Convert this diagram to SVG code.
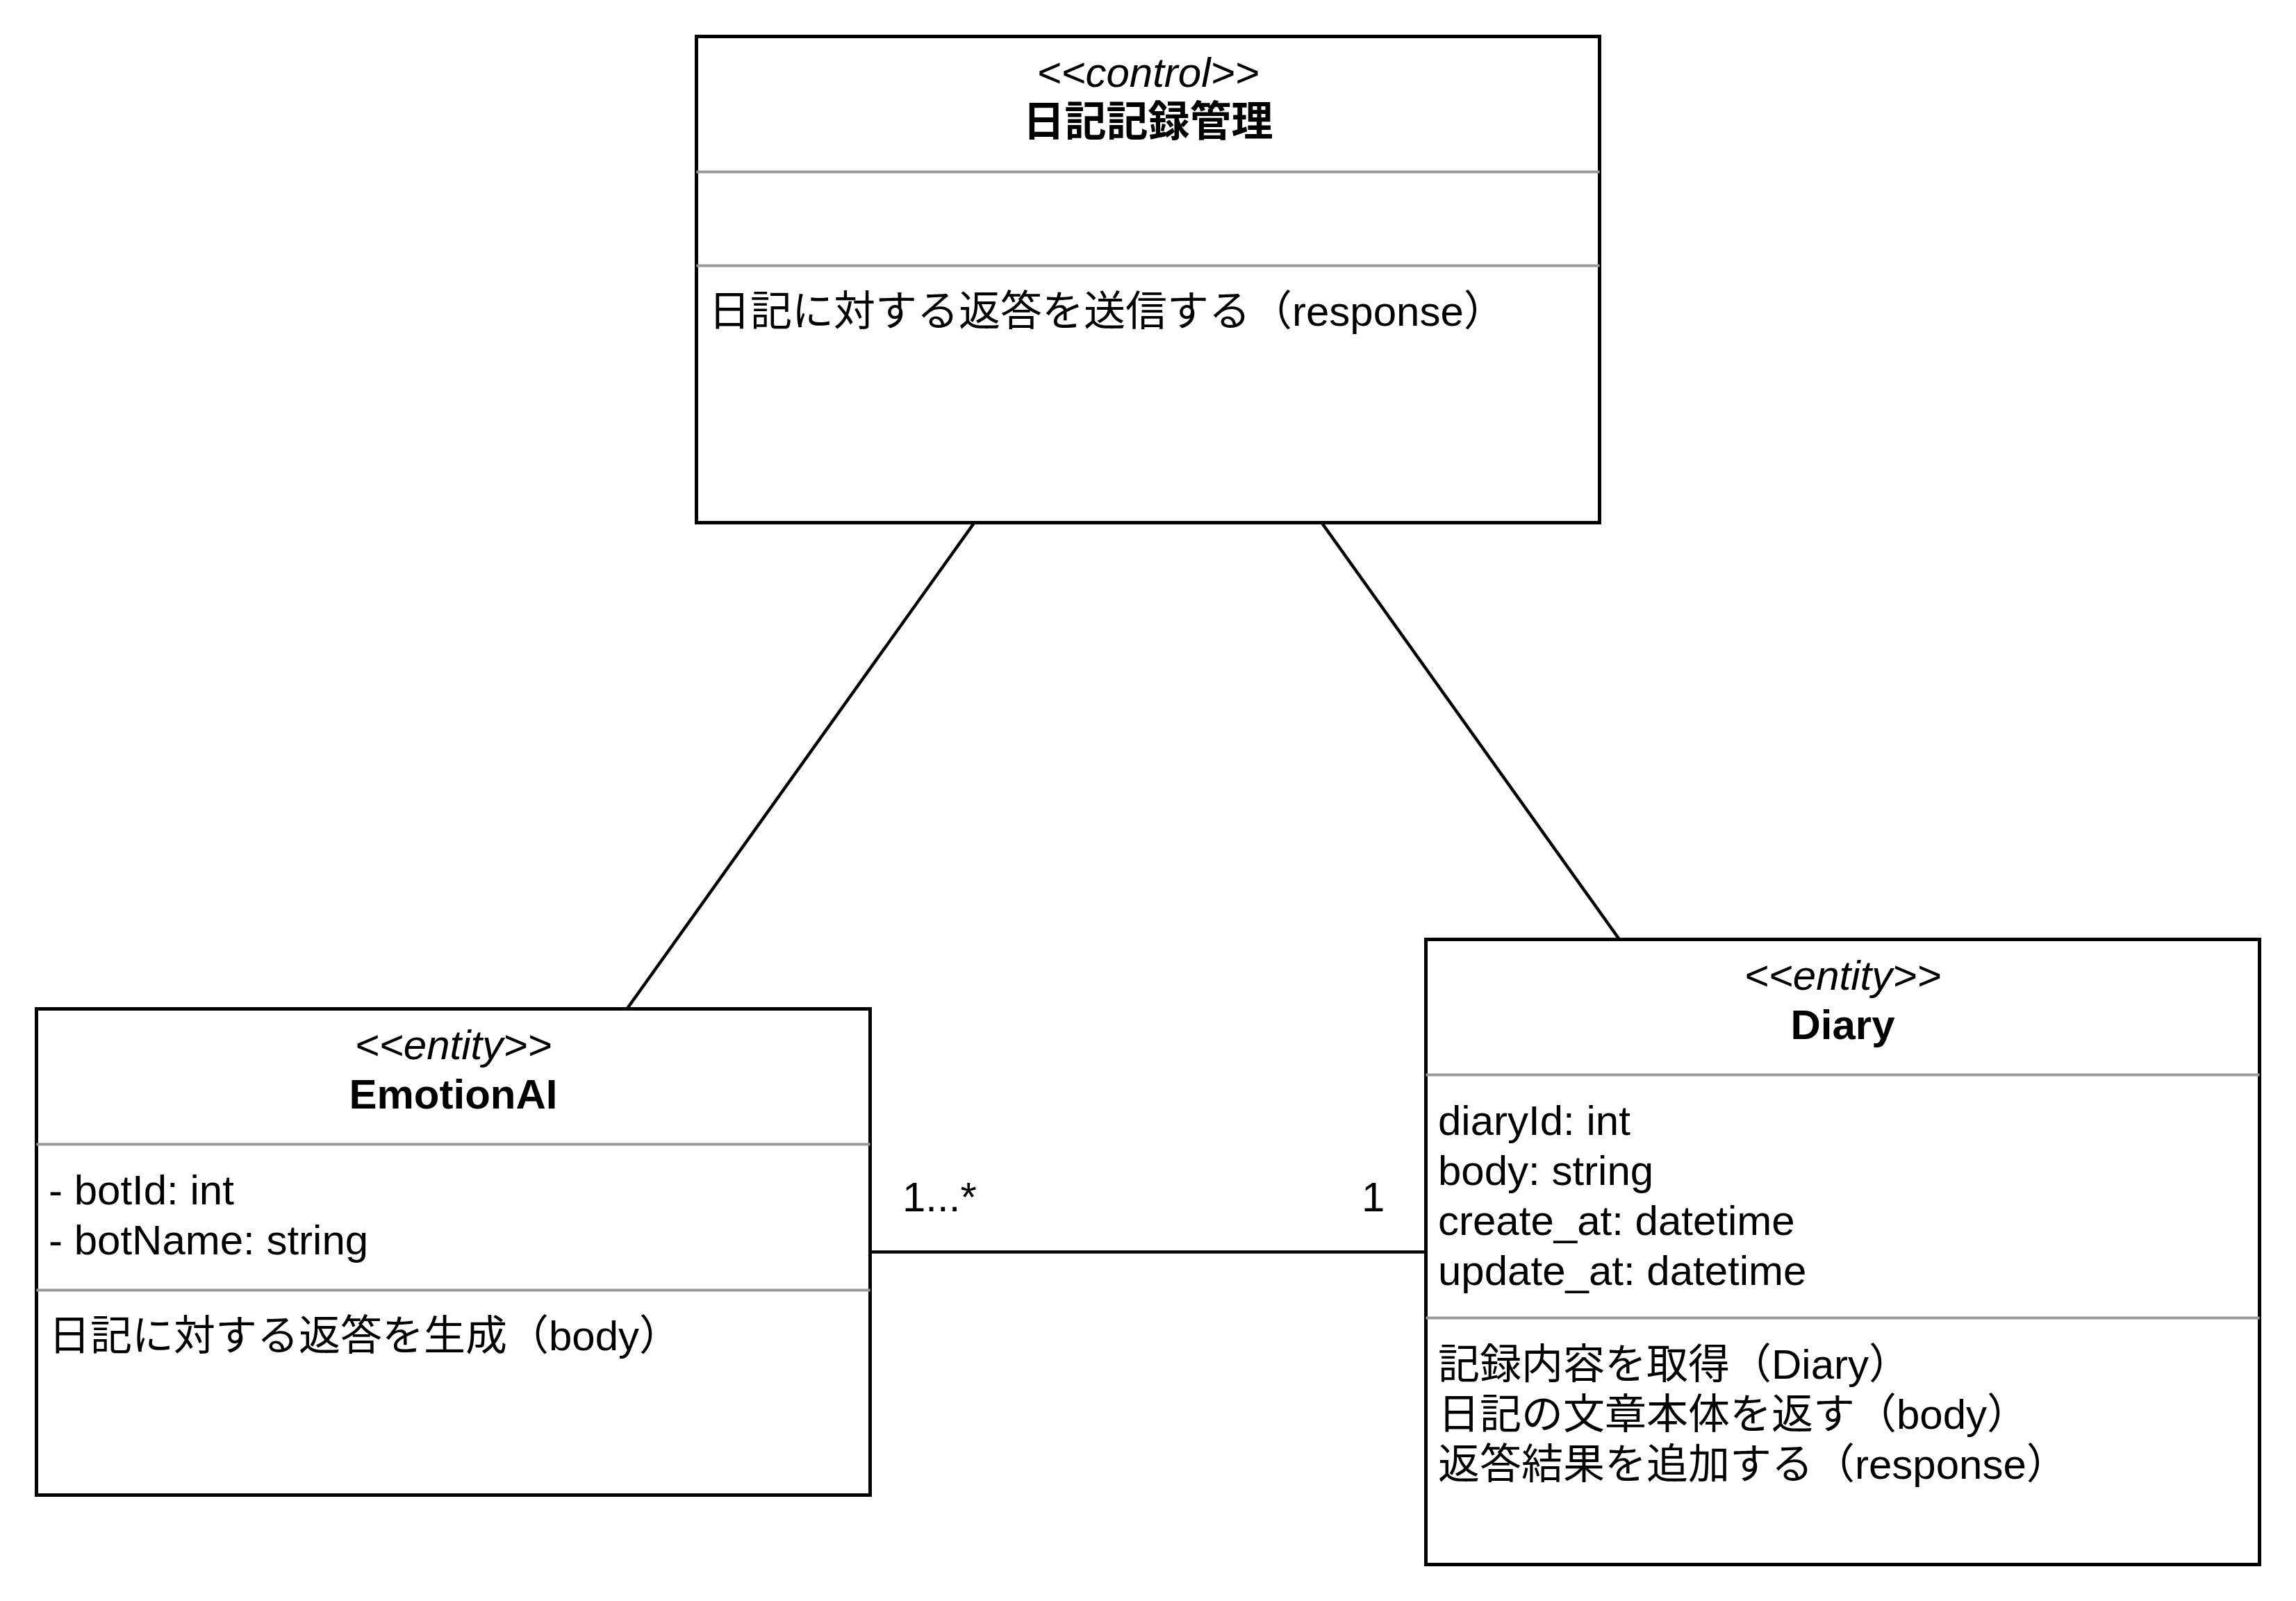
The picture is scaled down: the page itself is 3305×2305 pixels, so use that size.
<svg xmlns="http://www.w3.org/2000/svg" width="3305" height="2305" viewBox="0 0 3305 2305">
<style>
.box{fill:#ffffff;stroke:#000000;stroke-width:5}
.sep{stroke:#999999;stroke-width:4}
.edge{stroke:#000000;stroke-width:4.5;fill:none}
text{font-family:"Liberation Sans","Noto Sans CJK JP",sans-serif;font-size:60px;fill:#000000}
.st{font-style:italic;text-anchor:middle}
.ti{font-weight:bold;text-anchor:middle}
</style>
<rect x="0" y="0" width="3305" height="2305" fill="#ffffff"/>
<g id="connectors">
<line class="edge" x1="1402.5" y1="752.5" x2="902.5" y2="1452.5"/>
<line class="edge" x1="1902.5" y1="752.5" x2="2331" y2="1352.5"/>
<line class="edge" x1="1252.5" y1="1802.5" x2="2052.5" y2="1802.5"/>
<text x="1299" y="1744">1...*</text>
<text x="1960" y="1744">1</text>
</g>
<g id="node-control">
<rect class="box" x="1002.5" y="52.5" width="1300" height="700"/>
<line class="sep" x1="1002.5" y1="247.5" x2="2302.5" y2="247.5"/>
<line class="sep" x1="1002.5" y1="382.5" x2="2302.5" y2="382.5"/>
<text class="st" x="1652.5" y="124.5">&lt;&lt;control&gt;&gt;</text>
<text class="ti" x="1652.5" y="195.5">日記記録管理</text>
<text x="1020" y="469.3">日記に対する返答を送信する（response）</text>
</g>
<g id="node-emotionai">
<rect class="box" x="52.5" y="1452.5" width="1200" height="700"/>
<line class="sep" x1="52.5" y1="1647.5" x2="1252.5" y2="1647.5"/>
<line class="sep" x1="52.5" y1="1857.5" x2="1252.5" y2="1857.5"/>
<text class="st" x="652.5" y="1524.5">&lt;&lt;entity&gt;&gt;</text>
<text class="ti" x="652.5" y="1595.5">EmotionAI</text>
<text x="70" y="1734.3">- botId: int</text>
<text x="70" y="1806.3">- botName: string</text>
<text x="70" y="1944.3">日記に対する返答を生成（body）</text>
</g>
<g id="node-diary">
<rect class="box" x="2052.5" y="1352.5" width="1200" height="900"/>
<line class="sep" x1="2052.5" y1="1547.5" x2="3252.5" y2="1547.5"/>
<line class="sep" x1="2052.5" y1="1897.5" x2="3252.5" y2="1897.5"/>
<text class="st" x="2652.5" y="1424.5">&lt;&lt;entity&gt;&gt;</text>
<text class="ti" x="2652.5" y="1495.5">Diary</text>
<text x="2070" y="1634.3">diaryId: int</text>
<text x="2070" y="1706.3">body: string</text>
<text x="2070" y="1778.3">create_at: datetime</text>
<text x="2070" y="1850.3">update_at: datetime</text>
<text x="2070" y="1985.3">記録内容を取得（Diary）</text>
<text x="2070" y="2057.3">日記の文章本体を返す（body）</text>
<text x="2070" y="2129.3">返答結果を追加する（response）</text>
</g>
</svg>
